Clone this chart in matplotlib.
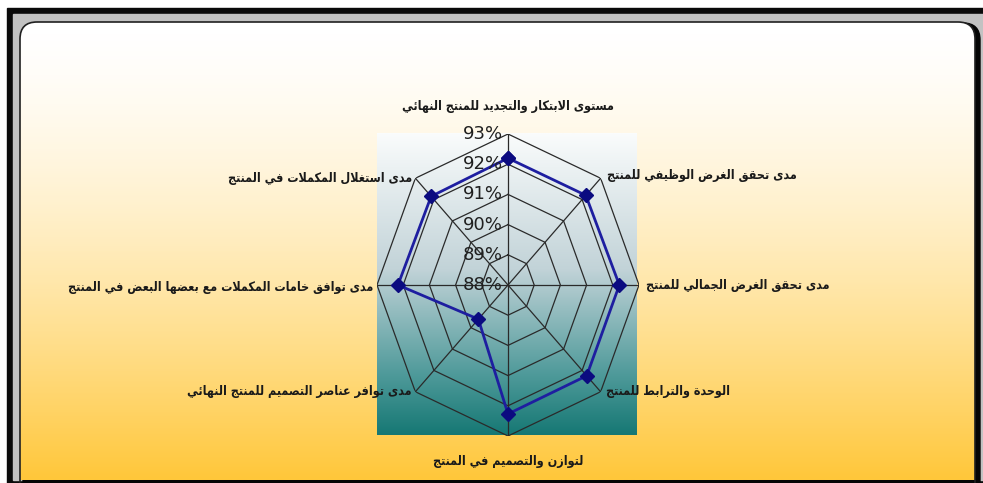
import matplotlib
matplotlib.use("Agg")
import matplotlib.pyplot as plt
import numpy as np
from matplotlib.colors import LinearSegmentedColormap
from matplotlib.patches import FancyBboxPatch, Rectangle

# chart data (clockwise from the top axis)
categories = [
    "مستوى الابتكار والتجديد للمنتج النهائي",
    "مدى تحقق الغرض الوظيفي للمنتج",
    "مدى تحقق الغرض الجمالي للمنتج",
    "الوحدة والترابط للمنتج",
    "لتوازن والتصميم في المنتج",
    "مدى توافر عناصر التصميم للمنتج النهائي",
    "مدى توافق خامات المكملات مع بعضها البعض في المنتج",
    "مدى استغلال المكملات في المنتج",
]
values = [92.2, 92.2, 92.25, 92.25, 92.27, 89.6, 92.2, 92.15]
ring_ticks = [88, 89, 90, 91, 92, 93]

# --- minimal Arabic shaping (matplotlib has no complex text layout) ---
FORMS = {
    "ء": (0xFE80, None, None, None),
    "آ": (0xFE81, 0xFE82, None, None), "أ": (0xFE83, 0xFE84, None, None),
    "ؤ": (0xFE85, 0xFE86, None, None), "إ": (0xFE87, 0xFE88, None, None),
    "ئ": (0xFE89, 0xFE8A, 0xFE8B, 0xFE8C), "ا": (0xFE8D, 0xFE8E, None, None),
    "ب": (0xFE8F, 0xFE90, 0xFE91, 0xFE92), "ة": (0xFE93, 0xFE94, None, None),
    "ت": (0xFE95, 0xFE96, 0xFE97, 0xFE98), "ث": (0xFE99, 0xFE9A, 0xFE9B, 0xFE9C),
    "ج": (0xFE9D, 0xFE9E, 0xFE9F, 0xFEA0), "ح": (0xFEA1, 0xFEA2, 0xFEA3, 0xFEA4),
    "خ": (0xFEA5, 0xFEA6, 0xFEA7, 0xFEA8), "د": (0xFEA9, 0xFEAA, None, None),
    "ذ": (0xFEAB, 0xFEAC, None, None), "ر": (0xFEAD, 0xFEAE, None, None),
    "ز": (0xFEAF, 0xFEB0, None, None), "س": (0xFEB1, 0xFEB2, 0xFEB3, 0xFEB4),
    "ش": (0xFEB5, 0xFEB6, 0xFEB7, 0xFEB8), "ص": (0xFEB9, 0xFEBA, 0xFEBB, 0xFEBC),
    "ض": (0xFEBD, 0xFEBE, 0xFEBF, 0xFEC0), "ط": (0xFEC1, 0xFEC2, 0xFEC3, 0xFEC4),
    "ظ": (0xFEC5, 0xFEC6, 0xFEC7, 0xFEC8), "ع": (0xFEC9, 0xFECA, 0xFECB, 0xFECC),
    "غ": (0xFECD, 0xFECE, 0xFECF, 0xFED0), "ف": (0xFED1, 0xFED2, 0xFED3, 0xFED4),
    "ق": (0xFED5, 0xFED6, 0xFED7, 0xFED8), "ك": (0xFED9, 0xFEDA, 0xFEDB, 0xFEDC),
    "ل": (0xFEDD, 0xFEDE, 0xFEDF, 0xFEE0), "م": (0xFEE1, 0xFEE2, 0xFEE3, 0xFEE4),
    "ن": (0xFEE5, 0xFEE6, 0xFEE7, 0xFEE8), "ه": (0xFEE9, 0xFEEA, 0xFEEB, 0xFEEC),
    "و": (0xFEED, 0xFEEE, None, None), "ى": (0xFEEF, 0xFEF0, None, None),
    "ي": (0xFEF1, 0xFEF2, 0xFEF3, 0xFEF4),
}
LAM_ALEF = {"آ": (0xFEF5, 0xFEF6), "أ": (0xFEF7, 0xFEF8),
            "إ": (0xFEF9, 0xFEFA), "ا": (0xFEFB, 0xFEFC)}


def joins_next(c):
    return c in FORMS and FORMS[c][2] is not None


def joins_prev(c):
    return c in FORMS and FORMS[c][1] is not None


def shape(text):
    out = []
    i = 0
    while i < len(text):
        c = text[i]
        prev = text[i - 1] if i > 0 else ""
        nxt = text[i + 1] if i + 1 < len(text) else ""
        if c not in FORMS:
            out.append(c)
            i += 1
            continue
        p = joins_next(prev)
        if c == "ل" and nxt in LAM_ALEF:
            out.append(chr(LAM_ALEF[nxt][1 if p else 0]))
            i += 2
            continue
        n = joins_next(c) and joins_prev(nxt)
        iso, fin, ini, med = FORMS[c]
        if p and n:
            code = med
        elif p and fin:
            code = fin
        elif n:
            code = ini
        else:
            code = iso
        out.append(chr(code))
        i += 1
    return "".join(reversed(out))


W, H = 983, 483
fig = plt.figure(figsize=(W / 100, H / 100), dpi=100)

bg = fig.add_axes([0, 0, 1, 1], zorder=0)
bg.axis("off")

# outer frame
bg.add_patch(Rectangle((7, 8), W - 7, H - 8, color="#0a0a0a"))
bg.add_patch(Rectangle((13, 14), W - 13, 466, color="#c2c2c2"))
bg.add_patch(FancyBboxPatch((23, 23), 957, 520, boxstyle="round,pad=0,rounding_size=17",
                            color="#050505"))
inner = FancyBboxPatch((20, 22), 955, 520, boxstyle="round,pad=0,rounding_size=17",
                       facecolor="none", edgecolor="#202020", lw=1.2)
bg.add_patch(inner)

t = np.linspace(0, 1, 256) ** 1.5
warm = LinearSegmentedColormap.from_list("warm", ["#ffffff", "#ffc73a"])
im = bg.imshow(t[:, None], cmap=warm, vmin=0, vmax=1, aspect="auto",
               extent=(20, 975, 480, 22), zorder=1)
im.set_clip_path(inner)
inner.set_zorder(2)

# plot area
teal = LinearSegmentedColormap.from_list(
    "teal", [(0, "#fafcfc"), (0.45, "#c2d3d8"), (0.8, "#4f9a9a"), (1, "#167874")])
bg.imshow(np.linspace(0, 1, 256)[:, None], cmap=teal, vmin=0, vmax=1, aspect="auto",
          extent=(377, 637, 435, 133), zorder=3)
bg.set_xlim(0, W)
bg.set_ylim(H, 0)

# radar
ax = fig.add_axes([377 / W, (H - 436) / H, 262 / W, 302 / H], projection="polar", zorder=5)
ax.set_aspect("auto")
ax.patch.set_alpha(0)
ax.spines["polar"].set_visible(False)
ax.grid(False)
ax.set_theta_zero_location("N")
ax.set_theta_direction(-1)
ax.set_xticks([])
ax.set_yticks([])

angles = np.linspace(0, 2 * np.pi, len(categories), endpoint=False)
closed = np.append(angles, angles[0])

for r in ring_ticks[1:]:
    ax.plot(closed, [r] * len(closed), color="#2a2a2a", lw=0.9)
for a in angles:
    ax.plot([a, a], [ring_ticks[0], ring_ticks[-1]], color="#2a2a2a", lw=0.9)

ax.plot(closed, np.append(values, values[0]), color="#1e1ea0", lw=2,
        marker="D", markersize=7, markerfacecolor="#0b0b80", markeredgecolor="#0b0b80")
ax.set_ylim(ring_ticks[0], ring_ticks[-1])

for r in ring_ticks:
    ax.annotate(f"{r}%", xy=(0, r), xytext=(-5, 0), textcoords="offset pixels",
                ha="right", va="center", fontsize=13, color="#202020")

offsets = [(0, 27, "center"), (6, 3, "left"), (7, 0, "left"), (5, 0, "left"),
           (0, -25, "center"), (-4, 0, "right"), (-4, -3, "right"), (-3, 0, "right")]
for a, lab, (dx, dy, ha) in zip(angles, categories, offsets):
    ax.annotate(shape(lab), xy=(a, ring_ticks[-1]), xytext=(dx, dy),
                textcoords="offset pixels", ha=ha, va="center",
                fontsize=9, fontweight="bold", fontstretch="condensed",
                color="#1a1a1a", annotation_clip=False)

fig.savefig("out.png", dpi=100)
